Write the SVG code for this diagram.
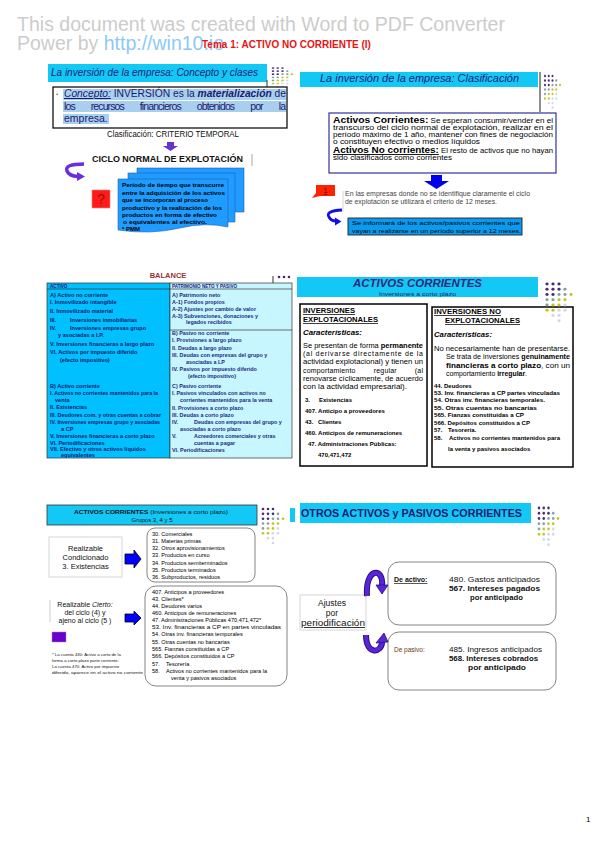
<svg xmlns="http://www.w3.org/2000/svg" width="599" height="848" viewBox="0 0 599 848">
<style>
text{font-family:"Liberation Sans",Arial,sans-serif;}
.wm{font-size:19.5px;fill:#cccccc;}
.bar{fill:#14c8f5;}
.ttl{fill:#1c1c78;font-style:italic;font-size:10px;}
.nv{fill:#1a1a6e;}
.sb{font-size:6px;font-weight:bold;fill:#000;}
.t7{font-size:7px;fill:#000;}
.tb{font-size:5.6px;font-weight:bold;fill:#111a70;}
.tr{font-size:5.4px;font-weight:bold;fill:#202a80;}
.bx{fill:#fff;stroke:#000;stroke-width:1.5;}
.rb{fill:#fff;stroke:#777;stroke-width:0.9;}
.sm{font-size:5.6px;fill:#000;}
.dP{fill:#4a2a7a;}.dT{fill:#7ea2a8;}.dY{fill:#c4c41e;}.dL{fill:#d2d6e6;}
.blk{fill:#0000ff;stroke:#000;stroke-width:0.8;}
</style>
<defs>
<g id="dots">
<circle class="dP" cx="0" cy="0" r="1.35"/><circle class="dP" cx="5" cy="0" r="1.35"/><circle class="dP" cx="10" cy="0" r="1.35"/>
<circle class="dP" cx="0" cy="5" r="1.35"/><circle class="dP" cx="5" cy="5" r="1.35"/><circle class="dP" cx="10" cy="5" r="1.35"/><circle class="dT" cx="15" cy="5" r="1.35"/>
<circle class="dP" cx="0" cy="10" r="1.35"/><circle class="dP" cx="5" cy="10" r="1.35"/><circle class="dT" cx="10" cy="10" r="1.35"/><circle class="dT" cx="15" cy="10" r="1.35"/><circle class="dY" cx="20" cy="10" r="1.35"/>
<circle class="dT" cx="0" cy="15" r="1.35"/><circle class="dT" cx="5" cy="15" r="1.35"/><circle class="dY" cx="10" cy="15" r="1.35"/><circle class="dY" cx="15" cy="15" r="1.35"/>
<circle class="dT" cx="0" cy="20" r="1.35"/><circle class="dY" cx="5" cy="20" r="1.35"/><circle class="dY" cx="10" cy="20" r="1.35"/><circle class="dL" cx="15" cy="20" r="1.35"/>
<circle class="dY" cx="0" cy="25" r="1.35"/><circle class="dY" cx="5" cy="25" r="1.35"/><circle class="dL" cx="10" cy="25" r="1.35"/><circle class="dL" cx="15" cy="25" r="1.35"/>
<circle class="dL" cx="5" cy="30" r="1.35"/><circle class="dL" cx="10" cy="30" r="1.35"/>
<circle class="dL" cx="10" cy="35" r="1.35"/>
</g>
</defs>

<!-- header -->
<g id="header">
<text class="wm" x="17" y="31" textLength="488" lengthAdjust="spacingAndGlyphs">This document was created with Word to PDF Converter</text>
<text class="wm" x="17" y="49.5">Power by <tspan fill="#8ccaf5">http://win10.io</tspan></text>
<text x="202" y="48" font-size="10" font-weight="bold" fill="#ee1111">Tema 1: ACTIVO NO CORRIENTE (I)</text>
</g>

<!-- Slide 1 -->
<g id="slide1">
<rect class="bar" x="48" y="64" width="219" height="18"/>
<text class="ttl" x="51" y="76" textLength="207" lengthAdjust="spacingAndGlyphs" font-style="normal">La inversión de la empresa: <tspan font-style="italic">Concepto y clases</tspan></text>
<line x1="267" y1="80" x2="267" y2="105" stroke="#333" stroke-width="1"/>
<use href="#dots" transform="translate(273,68) scale(0.95,0.62)"/>
<rect x="53" y="87" width="234" height="41" fill="#fff" stroke="#111" stroke-width="1.3"/>
<rect x="63" y="89" width="223" height="11" fill="#a9cfee"/>
<rect x="63" y="101" width="223" height="11" fill="#a9cfee"/>
<rect x="63" y="114" width="46" height="10" fill="#a9cfee"/>
<text x="56" y="96" font-size="6" fill="#666">•</text>
<text class="nv" x="64" y="97" font-size="10.5" textLength="222" lengthAdjust="spacingAndGlyphs"><tspan font-style="italic" text-decoration="underline">Concepto:</tspan> INVERSIÓN es la <tspan font-weight="bold" font-style="italic">materialización</tspan> de</text>
<text class="nv" x="64" y="110" font-size="10.5" textLength="222" lengthAdjust="spacing" word-spacing="14">los recursos financieros obtenidos por la</text>
<text class="nv" x="64" y="122" font-size="10.5">empresa.</text>
<text x="107" y="137" font-size="8.3" font-family="Liberation Serif,serif" fill="#111" textLength="132" lengthAdjust="spacingAndGlyphs">Clasificación: CRITERIO TEMPORAL</text>
<polygon points="167,142 174,142 174,146 178,146 170.5,151 163,146 167,146" fill="#6633cc"/>
<text x="92" y="162" font-size="8.5" font-weight="bold" fill="#111" textLength="151" lengthAdjust="spacingAndGlyphs">CICLO NORMAL DE EXPLOTACIÓN</text>
<line x1="252" y1="154" x2="252" y2="166" stroke="#aaa" stroke-width="1"/>
<path d="M84,164 Q64,164 67,171 Q69,176 78,176.5" fill="none" stroke="#6a2ee0" stroke-width="3.5"/>
<polygon points="77,172 85,176.5 77,181" fill="#6a2ee0"/>
<rect x="92" y="190" width="18" height="18" fill="#ff1a1a" stroke="#ff8080" stroke-width="0.6"/>
<text x="101" y="204" font-size="14" text-anchor="middle" fill="#991111">?</text>
<rect x="137" y="168" width="107" height="44" fill="#1e9cff" stroke="#2a5cb8" stroke-width="0.6"/>
<rect x="128" y="173" width="107" height="49" fill="#1e9cff" stroke="#2a5cb8" stroke-width="0.6"/>
<path d="M118,179 L228,179 L228,227 Q205,222 180,228 Q150,235 118,230 Z" fill="#1e9cff" stroke="#2a5cb8" stroke-width="0.6"/>
<text class="sb" x="122" y="187" textLength="102" lengthAdjust="spacingAndGlyphs">Período de tiempo que transcurre</text>
<text class="sb" x="122" y="194.5" textLength="103" lengthAdjust="spacingAndGlyphs">entre la adquisición de los activos</text>
<text class="sb" x="122" y="202" textLength="86" lengthAdjust="spacingAndGlyphs">que se incorporan al proceso</text>
<text class="sb" x="122" y="209.5" textLength="100" lengthAdjust="spacingAndGlyphs">productivo y la realización de los</text>
<text class="sb" x="122" y="217" textLength="95" lengthAdjust="spacingAndGlyphs">productos en forma de efectivo</text>
<text class="sb" x="123" y="224" textLength="84" lengthAdjust="spacingAndGlyphs">o equivalentes al efectivo.</text>
<text class="sb" x="122" y="231">* PMM</text>
</g>

<!-- Slide 2 -->
<g id="slide2">
<rect class="bar" x="300" y="72" width="238" height="15"/>
<text class="ttl" x="320" y="82" textLength="199" lengthAdjust="spacingAndGlyphs">La inversión de la empresa: Clasificación</text>
<line x1="540" y1="72" x2="540" y2="112" stroke="#444" stroke-width="1.2"/>
<use href="#dots" transform="translate(545,76) scale(0.75,0.9)"/>
<rect x="329" y="113" width="227" height="60" fill="#fff" stroke="#333399" stroke-width="1.2"/>
<text x="333" y="123" font-size="7" fill="#000" textLength="220" lengthAdjust="spacingAndGlyphs"><tspan font-size="9" font-weight="bold">Activos Corrientes:</tspan> Se esperan consumir/vender en el</text>
<text class="t7" x="333" y="130" textLength="220" lengthAdjust="spacingAndGlyphs">transcurso del ciclo normal de explotación, realizar en el</text>
<text class="t7" x="333" y="137" textLength="220" lengthAdjust="spacingAndGlyphs">período máximo de 1 año, mantener con fines de negociación</text>
<text class="t7" x="333" y="143.5" textLength="147" lengthAdjust="spacingAndGlyphs">o constituyen efectivo o medios líquidos</text>
<text x="333" y="153" font-size="7" fill="#000" textLength="220" lengthAdjust="spacingAndGlyphs"><tspan font-size="9" font-weight="bold" text-decoration="underline">Activos No corrientes:</tspan> El resto de activos que no hayan</text>
<text class="t7" x="333" y="160" textLength="119" lengthAdjust="spacingAndGlyphs">sido clasificados como corrientes</text>
<polygon points="431,175 442,175 442,181 449,181 436.5,189 424,181 431,181" fill="#0000ee"/>
<rect x="316" y="185" width="19" height="11" fill="#ff2200"/>
<polygon points="316,193 312,198 320,196" fill="#ff2200"/>
<text x="325.5" y="193" font-size="7" text-anchor="middle" fill="#551100" text-decoration="underline">1</text>
<line x1="343" y1="191" x2="343" y2="212" stroke="#ccc" stroke-width="0.8"/>
<text x="345" y="196" font-size="6.3" fill="#444" textLength="185" lengthAdjust="spacingAndGlyphs">En las empresas donde no se identifique claramente el ciclo</text>
<text x="345" y="203.5" font-size="6.3" fill="#444" textLength="152" lengthAdjust="spacingAndGlyphs">de explotación se utilizará el criterio de 12 meses.</text>
<path d="M342,210 Q325,211 329,217 Q331,221 336,221" fill="none" stroke="#1010e0" stroke-width="2.8"/>
<polygon points="335,217.5 341.5,221.5 335,225.5" fill="#1010e0"/>
<rect x="348" y="218" width="174" height="17" fill="#0a9aee" stroke="#222" stroke-width="0.9"/>
<text x="352" y="225" font-size="6.2" fill="#000" textLength="168" lengthAdjust="spacingAndGlyphs">Se informará de los activos/pasivos corrientes que</text>
<text x="352" y="232.5" font-size="6.2" fill="#000" textLength="169" lengthAdjust="spacingAndGlyphs">vayan a realizarse en un período superior a 12 meses.</text>
</g>

<!-- Slide 3 -->
<g id="slide3">
<text x="168" y="278" font-size="7.5" font-weight="bold" text-anchor="middle" fill="#993333">BALANCE</text>
<line x1="273" y1="276" x2="273" y2="283" stroke="#333" stroke-width="1"/>
<circle class="dP" cx="279" cy="277" r="1.3"/><circle class="dP" cx="284" cy="277" r="1.3"/><circle class="dP" cx="289" cy="277" r="1.3"/>
<rect x="47" y="283" width="123" height="175" fill="#00c0ff" stroke="#333" stroke-width="0.7"/>
<rect x="170" y="283" width="122" height="175" fill="#c8f6ff" stroke="#333" stroke-width="0.7"/>
<line x1="47" y1="289" x2="292" y2="289" stroke="#333" stroke-width="0.7"/>
<line x1="170" y1="330" x2="292" y2="330" stroke="#333" stroke-width="0.7"/>
<text x="50" y="287.5" font-size="4.6" font-weight="bold" fill="#1a1a80">ACTIVO</text>
<text x="172" y="287.5" font-size="4.6" font-weight="bold" fill="#1a1a80">PATRIMONIO NETO Y PASIVO</text>
<text class="tb" x="50" y="297" font-size="6.5">A) Activo no corriente</text>
<text class="tb" x="50" y="304">I. Inmovilizado intangible</text>
<text class="tb" x="50" y="313" font-size="7.3">II.  Inmovilizado material</text>
<text class="tb" x="50" y="322">III.<tspan x="70">Inversiones inmobiliarias</tspan></text>
<text class="tb" x="50" y="329.5">IV.<tspan x="70">Inversiones empresas grupo</tspan></text>
<text class="tb" x="58" y="337">y asociadas a LP.</text>
<text class="tb" x="50" y="345.5">V.  Inversiones financieras a largo plazo</text>
<text class="tb" x="50" y="353.5" font-size="7">VI. Activos por impuesto diferido</text>
<text class="tb" x="60" y="362">(efecto impositivo)</text>
<text class="tb" x="50" y="388" font-size="6.5">B) Activo corriente</text>
<text class="tb" x="50" y="395" textLength="108" lengthAdjust="spacingAndGlyphs">I. Activos no corrientes mantenidos para la</text>
<text class="tb" x="55" y="402">venta</text>
<text class="tb" x="50" y="409">II. Existencias</text>
<text class="tb" x="50" y="416.5" textLength="111" lengthAdjust="spacingAndGlyphs">III. Deudores com. y otras cuentas a cobrar</text>
<text class="tb" x="50" y="424" textLength="110" lengthAdjust="spacingAndGlyphs">IV. Inversiones empresas grupo y asociadas</text>
<text class="tb" x="61" y="431">a CP</text>
<text class="tb" x="50" y="438">V.  Inversiones financieras a corto plazo</text>
<text class="tb" x="50" y="444.5">VI. Periodificaciones</text>
<text class="tb" x="50" y="451">VII. Efectivo y otros activos líquidos</text>
<text class="tb" x="61" y="457">equivalentes</text>
<text class="tr" x="172" y="296.5" font-size="6.3">A) Patrimonio neto</text>
<text class="tr" x="172" y="304">A-1) Fondos propios</text>
<text class="tr" x="172" y="311">A-2) Ajustes por cambio de valor</text>
<text class="tr" x="172" y="317.5">A-3) Subvenciones, donaciones y</text>
<text class="tr" x="186" y="324">legados recibidos</text>
<text class="tr" x="172" y="334.5" font-size="6.3">B) Pasivo no corriente</text>
<text class="tr" x="172" y="342">I. Provisiones a largo plazo</text>
<text class="tr" x="172" y="349.5">II. Deudas a largo plazo</text>
<text class="tr" x="172" y="357">III. Deudas con empresas del grupo y</text>
<text class="tr" x="186" y="363.5">asociadas a LP</text>
<text class="tr" x="172" y="371">IV.  Pasivos por impuesto diferido</text>
<text class="tr" x="188" y="378">(efecto impositivo)</text>
<text class="tr" x="172" y="388" font-size="6.3">C) Pasivo corriente</text>
<text class="tr" x="172" y="395">I. Pasivos vinculados con activos no</text>
<text class="tr" x="180" y="402">corrientes mantenidos para la venta</text>
<text class="tr" x="172" y="409.5">II. Provisiones a corto plazo</text>
<text class="tr" x="172" y="417">III. Deudas a corto plazo</text>
<text class="tr" x="172" y="424">IV.<tspan x="194">Deudas con empresas del grupo y</tspan></text>
<text class="tr" x="180" y="431">asociadas a corto plazo</text>
<text class="tr" x="172" y="438">V.<tspan x="194">Acreedores comerciales y otras</tspan></text>
<text class="tr" x="194" y="444.5">cuentas a pagar</text>
<text class="tr" x="172" y="452">VI. Periodificaciones</text>
</g>

<!-- Slide 4 -->
<g id="slide4">
<rect class="bar" x="297" y="277" width="241" height="20"/>
<text x="353" y="287" font-size="11" font-weight="bold" font-style="italic" fill="#2a2a80" textLength="129" lengthAdjust="spacingAndGlyphs">ACTIVOS CORRIENTES</text>
<text x="379" y="296" font-size="6" fill="#1a1a60" textLength="77" lengthAdjust="spacingAndGlyphs">Inversiones a corto plazo</text>
<rect class="bx" x="300" y="304" width="127" height="162"/>
<rect class="bx" x="432" y="307" width="141" height="160"/>
<use href="#dots" transform="translate(547,284) scale(1.2,1.05)"/>
<text x="303" y="313" font-size="7.5" font-weight="bold" fill="#000" text-decoration="underline" textLength="52" lengthAdjust="spacingAndGlyphs">INVERSIONES</text>
<text x="303" y="322" font-size="7.5" font-weight="bold" fill="#000" text-decoration="underline" textLength="75" lengthAdjust="spacingAndGlyphs">EXPLOTACIONALES</text>
<text x="303" y="335" font-size="7.5" font-weight="bold" font-style="italic" fill="#000" textLength="59" lengthAdjust="spacingAndGlyphs">Características:</text>
<text class="t7" x="303" y="347.5" textLength="120" lengthAdjust="spacingAndGlyphs">Se presentan de forma <tspan font-weight="bold">permanente</tspan></text>
<text class="t7" x="303" y="356" textLength="120" lengthAdjust="spacing">(al derivarse directamente de la</text>
<text class="t7" x="303" y="364" textLength="120" lengthAdjust="spacingAndGlyphs">actividad explotacional) y tienen un</text>
<text class="t7" x="303" y="372.5" textLength="120" lengthAdjust="spacing" word-spacing="16">comportamiento regular (al</text>
<text class="t7" x="303" y="381" textLength="120" lengthAdjust="spacingAndGlyphs">renovarse cíclicamente, de acuerdo</text>
<text class="t7" x="303" y="389" textLength="104" lengthAdjust="spacingAndGlyphs">con la actividad empresarial).</text>
<text class="sb" x="305" y="402" font-size="6.3">3.<tspan x="319">Existencias</tspan></text>
<text class="sb" x="305" y="413" font-size="6.3">407. Anticipo a proveedores</text>
<text class="sb" x="305" y="424" font-size="6.3">43.<tspan x="318">Clientes</tspan></text>
<text class="sb" x="305" y="435" font-size="6.3">460. Anticipos de remuneraciones</text>
<text class="sb" x="308" y="446" font-size="6.3">47. Administraciones Públicas:</text>
<text class="sb" x="318" y="457" font-size="6.3">470,471,472</text>
<text x="434" y="314" font-size="7.5" font-weight="bold" fill="#000" text-decoration="underline" textLength="67" lengthAdjust="spacingAndGlyphs">INVERSIONES NO</text>
<text x="445" y="323" font-size="7.5" font-weight="bold" fill="#000" text-decoration="underline" textLength="75" lengthAdjust="spacingAndGlyphs">EXPLOTACIONALES</text>
<text x="434" y="337" font-size="7.5" font-weight="bold" font-style="italic" fill="#000" textLength="58" lengthAdjust="spacingAndGlyphs">Características:</text>
<text class="t7" x="434" y="351" textLength="136" lengthAdjust="spacingAndGlyphs">No necesariamente han de presentarse.</text>
<text class="t7" x="446" y="359" textLength="124" lengthAdjust="spacingAndGlyphs">Se trata de inversiones <tspan font-weight="bold">genuinamente</tspan></text>
<text class="t7" x="446" y="367.5" textLength="124" lengthAdjust="spacingAndGlyphs"><tspan font-weight="bold">financieras a corto plazo</tspan>, con un</text>
<text class="t7" x="446" y="376" textLength="81" lengthAdjust="spacingAndGlyphs">comportamiento <tspan font-weight="bold">irregular</tspan>.</text>
<text class="sb" x="434" y="387.5" font-size="6.5">44. Deudores</text>
<text class="sb" x="434" y="395" font-size="5.5" textLength="126" lengthAdjust="spacingAndGlyphs">53. Inv. financieras a CP partes vinculadas</text>
<text class="sb" x="434" y="402" font-size="5.5" textLength="111" lengthAdjust="spacingAndGlyphs">54. Otras inv. financieras temporales.</text>
<text class="sb" x="434" y="409.5" font-size="5.5" textLength="103" lengthAdjust="spacingAndGlyphs">55. Otras cuentas no bancarias</text>
<text class="sb" x="434" y="417" font-size="5.5" textLength="90" lengthAdjust="spacingAndGlyphs">565. Fianzas constituidas a CP</text>
<text class="sb" x="434" y="425" font-size="5.5" textLength="96" lengthAdjust="spacingAndGlyphs">566. Depósitos constituidos a CP</text>
<text class="sb" x="434" y="432" font-size="5.5">57.<tspan x="448">Tesorería.</tspan></text>
<text class="sb" x="434" y="439.5" font-size="6">58.<tspan x="449">Activos no corrientes mantenidos para</tspan></text>
<text class="sb" x="448" y="451" font-size="5">la venta y pasivos asociados</text>
</g>

<!-- Slide 5 -->
<g id="slide5">
<rect x="47" y="505" width="210" height="20" fill="#14c8f5" stroke="#333" stroke-width="0.8"/>
<text x="74" y="514" font-size="6" fill="#111" textLength="154" lengthAdjust="spacingAndGlyphs"><tspan font-weight="bold">ACTIVOS CORRIENTES</tspan> (Inversiones a corto plazo)</text>
<text x="152" y="522" font-size="6" fill="#111" text-anchor="middle">Grupos 3, 4 y 5</text>
<use href="#dots" transform="translate(263,509) scale(1,0.97)"/>
<rect x="290" y="508" width="5" height="14" fill="#14c8f5"/>
<rect x="49" y="537" width="73" height="40" fill="#fff" stroke="#ddd" stroke-width="1.2"/>
<text x="85.5" y="550.5" font-size="7.5" fill="#111" text-anchor="middle">Realizable</text>
<text x="85.5" y="559.5" font-size="7.5" fill="#111" text-anchor="middle">Condicionado</text>
<text x="85.5" y="568.5" font-size="7.5" fill="#111" text-anchor="middle">3. Existencias</text>
<polygon class="blk" points="125,554 134,554 134,550 141,559 134,568 134,564 125,564"/>
<rect class="rb" x="147" y="528" width="108" height="54" rx="8"/>
<text class="sm" x="152" y="535.5">30. Comerciales</text>
<text class="sm" x="152" y="543">31. Materias primas</text>
<text class="sm" x="152" y="550">32. Otros aprovisionamientos</text>
<text class="sm" x="152" y="557">33. Productos en curso</text>
<text class="sm" x="152" y="564.5">34. Productos semiterminados</text>
<text class="sm" x="152" y="572">35. Productos terminados</text>
<text class="sm" x="152" y="579">36. Subproductos, residuos</text>
<rect class="rb" x="145" y="586" width="142" height="100" rx="11"/>
<text class="sm" x="152" y="593.5">407. Anticipos a proveedores</text>
<text class="sm" x="152" y="601">43. Clientes*</text>
<text class="sm" x="152" y="607.5">44. Deudores varios</text>
<text class="sm" x="152" y="614.5">460. Anticipos de remuneraciones</text>
<text class="sm" x="152" y="622">47. Administraciones Públicas 470,471,472*</text>
<text class="sm" x="152" y="629" textLength="129" lengthAdjust="spacingAndGlyphs">53. Inv. financieras a CP en partes vinculadas</text>
<text class="sm" x="152" y="636">54. Otras inv. financieras temporales</text>
<text class="sm" x="152" y="643.5">55. Otras cuentas no bancarias</text>
<text class="sm" x="152" y="651">565. Fianzas constituidas a CP</text>
<text class="sm" x="152" y="658">566. Depósitos constituidos a CP</text>
<text class="sm" x="152" y="665.5">57.<tspan x="166">Tesorería</tspan></text>
<text class="sm" x="152" y="672.5">58.<tspan x="166">Activos no corrientes mantenidos para la</tspan></text>
<text class="sm" x="171" y="680">venta y pasivos asociados</text>
<line x1="50" y1="600" x2="50" y2="622" stroke="#ccc" stroke-width="1"/>
<text x="85" y="607" font-size="7" fill="#111" text-anchor="middle">Realizable <tspan font-style="italic">Cierto:</tspan></text>
<text x="85" y="615" font-size="7" fill="#111" text-anchor="middle">del ciclo (4) y</text>
<text x="85" y="623" font-size="7" fill="#111" text-anchor="middle">ajeno al ciclo (5 )</text>
<polygon class="blk" points="125,614 134,614 134,611 141,618 134,625 134,622 125,622"/>
<rect x="52" y="632" width="14" height="10" fill="#6a00cc" stroke="#a080e0" stroke-width="0.5"/>
<text x="52" y="655.5" font-size="4.3" fill="#111">* La cuenta 430: Activo a corto de la</text>
<text x="52" y="661.5" font-size="4.3" fill="#111">forma a corto plazo parte corriente.</text>
<text x="52" y="667.5" font-size="4.3" fill="#111">La cuenta 470: Activo por impuesto</text>
<text x="52" y="673.5" font-size="4.3" fill="#111" textLength="91" lengthAdjust="spacingAndGlyphs">diferido, aparece en el activo no corriente</text>
</g>

<!-- Slide 6 -->
<g id="slide6">
<rect class="bar" x="300" y="503" width="231" height="20"/>
<text x="301" y="516.5" font-size="10.5" font-weight="bold" fill="#1a1a6e" textLength="221" lengthAdjust="spacingAndGlyphs">OTROS ACTIVOS y PASIVOS CORRIENTES</text>
<use href="#dots" transform="translate(539,508) scale(0.95,1.05)"/>
<rect class="rb" x="388" y="562" width="168" height="63" rx="11"/>
<rect class="rb" x="388" y="632" width="168" height="58" rx="11"/>
<text x="394" y="582" font-size="7" font-weight="bold" fill="#111" text-decoration="underline">De activo:</text>
<text x="449" y="582" font-size="7" fill="#111" textLength="91" lengthAdjust="spacingAndGlyphs">480. Gastos anticipados</text>
<text x="449" y="591" font-size="7" font-weight="bold" fill="#111" textLength="91" lengthAdjust="spacingAndGlyphs">567. Intereses pagados</text>
<text x="470" y="600" font-size="7" font-weight="bold" fill="#111" textLength="53" lengthAdjust="spacingAndGlyphs">por anticipado</text>
<text x="394" y="652" font-size="6.5" fill="#6a3a10">De pasivo:</text>
<text x="449" y="652" font-size="7" fill="#111" textLength="93" lengthAdjust="spacingAndGlyphs">485. Ingresos anticipados</text>
<text x="449" y="661" font-size="7" font-weight="bold" fill="#111" textLength="89" lengthAdjust="spacingAndGlyphs">568. Intereses cobrados</text>
<text x="468" y="670" font-size="7" font-weight="bold" fill="#111" textLength="58" lengthAdjust="spacingAndGlyphs">por anticipado</text>
<rect x="300" y="595" width="66" height="35" fill="#fff" stroke="#ddd" stroke-width="1.2"/>
<text x="332" y="606" font-size="8.5" fill="#111" text-anchor="middle">Ajustes</text>
<text x="332" y="616" font-size="8.5" fill="#111" text-anchor="middle">por</text>
<text x="301" y="626" font-size="8.5" fill="#111" text-decoration="underline" textLength="64" lengthAdjust="spacingAndGlyphs">periodificación</text>
<path d="M367,596 C365,567 384,567 382,586" fill="none" stroke="#2a1080" stroke-width="6"/>
<path d="M367,596 C365,567 384,567 382,586" fill="none" stroke="#5a24d8" stroke-width="4"/>
<polygon points="376,585 388,585 382,594" fill="#5a24d8" stroke="#2a1080" stroke-width="0.8"/>
<path d="M366,635 C366,656 382,653 382,642" fill="none" stroke="#2a1080" stroke-width="6"/>
<path d="M366,635 C366,656 382,653 382,642" fill="none" stroke="#5a24d8" stroke-width="4"/>
<polygon points="376,643 388,642 384,633" fill="#5a24d8" stroke="#2a1080" stroke-width="0.8"/>
</g>

<text x="586" y="822" font-size="8" fill="#000">1</text>
</svg>
